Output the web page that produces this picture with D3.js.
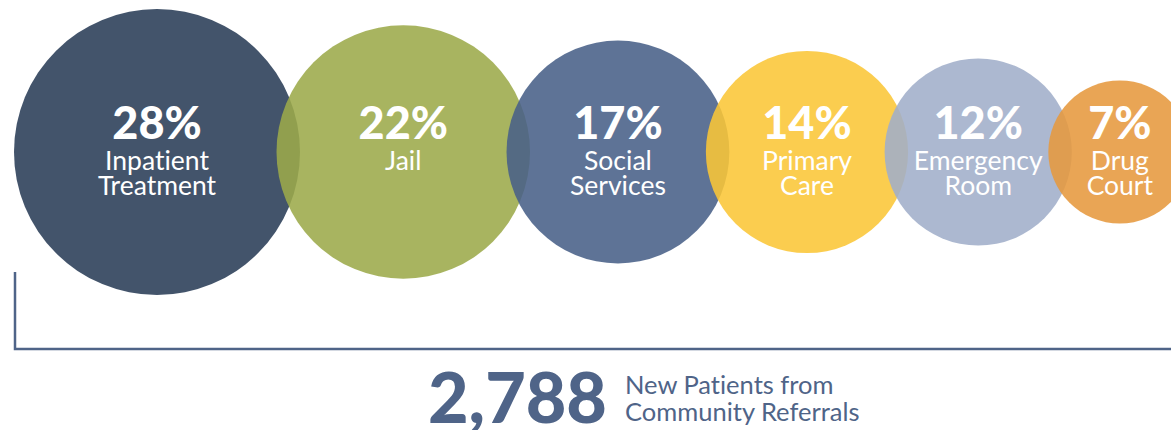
<!DOCTYPE html>
<html>
<head>
<meta charset="utf-8">
<script src="https://cdn.jsdelivr.net/npm/d3@7"></script>
<style>
  html, body { margin: 0; padding: 0; background: #fff; }
  svg { display: block; }
  text { font-family: Lato, "Open Sans", sans-serif; font-variant-ligatures: none; }
</style>
</head>
<body>
<div id="root"></div>
<script>
// referral sources, share of new patients
var categories = ["Inpatient Treatment", "Jail", "Social Services", "Primary Care", "Emergency Room", "Drug Court"];
var labelLines = [["Inpatient", "Treatment"], ["Jail"], ["Social", "Services"], ["Primary", "Care"], ["Emergency", "Room"], ["Drug", "Court"]];
var values = [28, 22, 17, 14, 12, 7];
var colors = ["#43546b", "#a8b460", "#5e7396", "#fbcd4f", "#abb8d0", "#e9a454"];
var totalPatients = 2788;
var totalLines = ["New Patients from", "Community Referrals"];

var w = 1171, h = 430;
var cy = 152;
var overlap = 23.5;
var alpha = 0.88;
var ink = "#4f6488";

var svg = d3.select("#root").append("svg").attr("width", w).attr("height", h);

// bubble area matches the share
var rScale = d3.scaleSqrt().domain([0, d3.max(values)]).range([0, 143]);

// lay bubbles side by side, each slightly overlapping the previous one
var xs = [];
var x = 14;
values.forEach(function(v, i) {
  var r = rScale(v);
  if (i == 0) x = x + r;
  else x = x + rScale(values[i - 1]) + r - overlap;
  xs.push(x);
});

// fill so that the colour over white looks like the picked colour
function fillFor(c) {
  var a = d3.rgb(c);
  return d3.rgb((a.r - 255 * (1 - alpha)) / alpha, (a.g - 255 * (1 - alpha)) / alpha, (a.b - 255 * (1 - alpha)) / alpha).formatHex();
}

var data = categories.map(function(c, i) {
  return { name: c, lines: labelLines[i], value: values[i], color: colors[i], x: xs[i], r: rScale(values[i]) };
});

svg.selectAll("circle.bubble").data(data).enter().append("circle")
  .attr("class", "bubble")
  .attr("cx", function(d) { return d.x; })
  .attr("cy", cy)
  .attr("r", function(d) { return d.r; })
  .attr("fill", function(d, i) { return i == 0 ? d.color : fillFor(d.color); })
  .attr("fill-opacity", function(d, i) { return i == 0 ? 1 : alpha; });

// percentages
svg.selectAll("text.pct").data(data).enter().append("text")
  .attr("class", "pct")
  .attr("x", function(d) { return d.x; })
  .attr("y", cy - 13)
  .attr("text-anchor", "middle")
  .attr("fill", "#fff")
  .style("font-size", "45px")
  .style("font-weight", "900")
  .text(function(d) { return d.value + "%"; });

// category labels
var labels = svg.selectAll("text.lbl").data(data).enter().append("text")
  .attr("class", "lbl")
  .attr("text-anchor", "middle")
  .attr("fill", "#fff")
  .style("font-size", "26.5px");
labels.selectAll("tspan").data(function(d) { return d.lines.map(function(l) { return { x: d.x, t: l }; }); })
  .enter().append("tspan")
  .attr("x", function(d) { return d.x; })
  .attr("y", function(d, i) { return cy + 18 + i * 25; })
  .text(function(d) { return d.t; });

// bracket
svg.append("path")
  .attr("d", "M15,272 L15,349 L" + w + ",349")
  .attr("fill", "none")
  .attr("stroke", ink)
  .attr("stroke-width", 2.5);

// total
svg.append("text")
  .attr("x", 428)
  .attr("y", 423)
  .attr("fill", ink)
  .style("font-size", "70px")
  .style("font-weight", "900")
  .text(d3.format(",")(totalPatients));

svg.append("text")
  .attr("fill", ink)
  .style("font-size", "25.5px")
  .selectAll("tspan").data(totalLines).enter().append("tspan")
  .attr("x", 625)
  .attr("y", function(d, i) { return 394 + i * 27; })
  .text(function(d) { return d; });
</script>
</body>
</html>
